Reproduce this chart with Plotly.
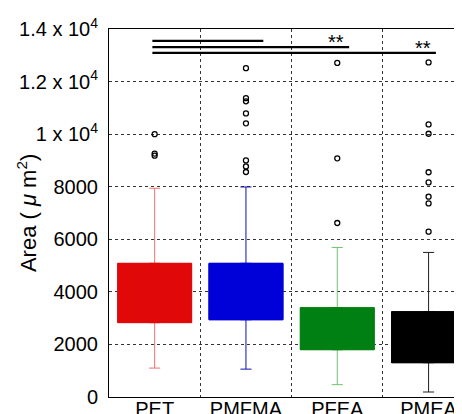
import plotly.graph_objects as go

# ---- data ----
categories = ["PET", "PMFMA", "PFEA", "PMEA"]
q1 = [2830, 2940, 1800, 1305]
q3 = [5085, 5085, 3400, 3245]
lower_whisker = [1100, 1060, 470, 190]
upper_whisker = [7940, 7990, 5690, 5500]
outliers = [
    [10000, 9260, 9180],
    [12510, 11370, 11250, 10790, 10410, 9000, 8770, 8560],
    [12710, 9080, 6620],
    [12730, 10370, 10015, 8550, 8165, 7620, 7365, 6290],
]
fill_colors = ["#e00808", "#0000d8", "#008012", "#000000"]
whisker_colors = ["#f07070", "#1010b0", "#70c070", "#202020"]

ytick_vals = [0, 2000, 4000, 6000, 8000, 10000, 12000, 14000]
ytick_text = ["0", "2000", "4000", "6000", "8000",
              "1 x 10<sup>4</sup>", "1.2 x 10<sup>4</sup>", "1.4 x 10<sup>4</sup>"]

# significance bars: (start x, end x, y)
sig_start = [0.975, 0.975, 0.975]
sig_end = [2.19, 3.13, 4.08]
sig_y = [13550, 13310, 13095]
star_x = [2.99, 3.94]
star_y = [13560, 13320]
star_text = ["**", "**"]

FONT = "Liberation Sans, Arial, sans-serif"

fig = go.Figure()
xs = list(range(1, len(categories) + 1))
for i, cat in enumerate(categories):
    # whiskers (and caps) in the lighter whisker colour
    fig.add_trace(go.Box(
        x=[xs[i]], q1=[q1[i]], median=[q1[i]], q3=[q3[i]],
        lowerfence=[lower_whisker[i]], upperfence=[upper_whisker[i]],
        fillcolor=fill_colors[i],
        line=dict(color=whisker_colors[i], width=1),
        width=0.81, whiskerwidth=0.15,
        boxpoints=False, showlegend=False, name=cat,
    ))
    # solid box body on top, outline in the fill colour (no visible median)
    fig.add_trace(go.Box(
        x=[xs[i]], q1=[q1[i]], median=[q1[i]], q3=[q3[i]],
        lowerfence=[q1[i]], upperfence=[q3[i]],
        fillcolor=fill_colors[i],
        line=dict(color=fill_colors[i], width=1),
        width=0.81, whiskerwidth=0.15,
        boxpoints=False, showlegend=False, name=cat, hoverinfo="skip",
    ))
    fig.add_trace(go.Scatter(
        x=[xs[i]] * len(outliers[i]), y=outliers[i], mode="markers",
        marker=dict(symbol="circle-open", size=5, color="black",
                    line=dict(width=1.3, color="black")),
        showlegend=False, hoverinfo="skip",
    ))

for s, e, y in zip(sig_start, sig_end, sig_y):
    fig.add_shape(type="line", x0=s, x1=e, y0=y, y1=y, xref="x", yref="y",
                  line=dict(color="black", width=2.2))
for x, y, t in zip(star_x, star_y, star_text):
    fig.add_annotation(x=x, y=y, text=t, showarrow=False, xref="x", yref="y",
                       font=dict(family=FONT, size=20, color="black"),
                       yanchor="middle", yshift=-1)

fig.add_annotation(
    text="Area ( <i>\u03bc</i> m<sup>2</sup>)", textangle=-90,
    xref="paper", yref="paper", x=-0.232, y=0.5, xanchor="center", yanchor="middle",
    showarrow=False, font=dict(family=FONT, size=22, color="black"),
)

# page body adds an 8px offset, so the figure is 8px smaller on each axis
fig.update_layout(
    width=454, height=406,
    margin=dict(l=101, r=0, t=21, b=17),
    paper_bgcolor="white", plot_bgcolor="white",
    font=dict(family=FONT, color="black"),
    xaxis=dict(
        range=[0.5, 4.366], tickmode="array", tickvals=xs, ticktext=categories,
        showgrid=False, zeroline=False, showline=True, linecolor="black",
        linewidth=1, mirror=True, ticks="", automargin=False,
        ticklabelstandoff=-6,
        tickfont=dict(family=FONT, size=20, color="black"),
        minor=dict(tickmode="array", tickvals=[1.5, 2.5, 3.5], showgrid=True,
                   gridcolor="#333333", griddash="dot", gridwidth=1, ticks=""),
    ),
    yaxis=dict(
        range=[0, 14000], tickmode="array", tickvals=ytick_vals, ticktext=ytick_text,
        showgrid=True, gridcolor="#333333", griddash="dot", gridwidth=1,
        zeroline=False, showline=True, linecolor="black", linewidth=1,
        mirror=False, ticks="", automargin=False, ticklabelstandoff=6,
        tickfont=dict(family=FONT, size=20, color="black"),
    ),
)

fig.write_html("out.html")
